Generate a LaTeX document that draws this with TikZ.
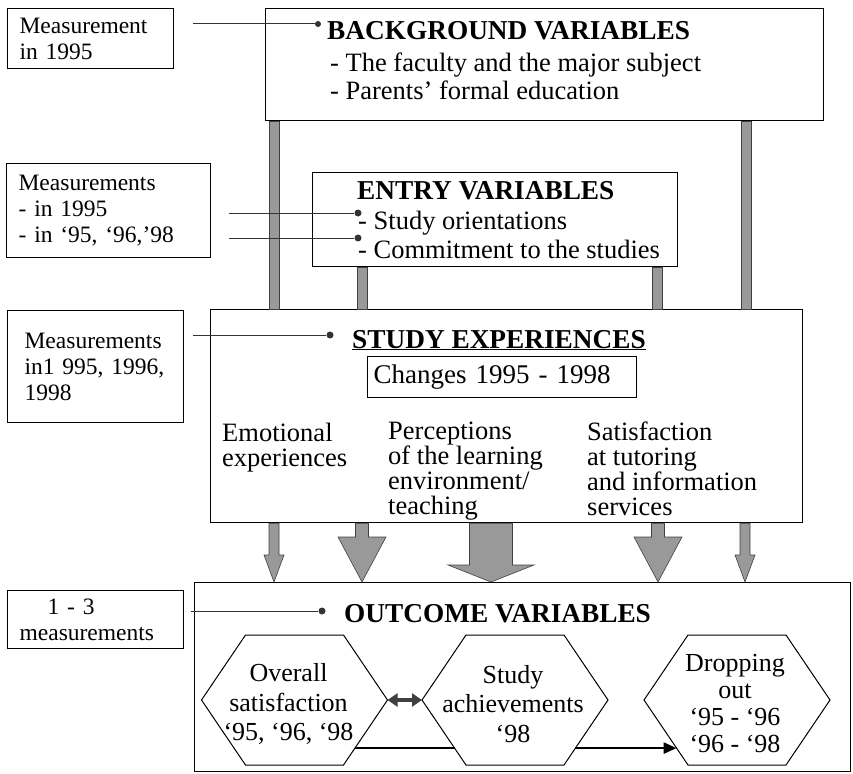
\documentclass[tikz,border=0pt]{standalone}
\usepackage{fontspec}
\setmainfont{Liberation Serif}
\usetikzlibrary{arrows.meta,calc}

\begin{document}
\begin{tikzpicture}[x=1pt, y=-1pt,
    frame/.style={draw, line width=1.2pt, inner sep=0pt, anchor=north west},
    note/.style={draw, line width=1.2pt, anchor=north west, align=left,
        inner xsep=12pt, inner ysep=0pt, font=\fontsize{23.5}{26}\selectfont},
    heading/.style={anchor=west, inner sep=0pt, font=\fontsize{27.3}{29}\selectfont\bfseries},
    items/.style={anchor=north west, inner sep=0pt, align=left, font=\fontsize{26.5}{28}\selectfont},
    dot/.style={circle, fill=black!80, inner sep=0pt, minimum size=7pt},
    lead/.style={line width=1pt, black!80},
    bar/.style={fill=black!40, draw=black!75, line width=0.6pt},
    hexline/.style={draw, line width=1pt, fill=white},
    hextext/.style={inner sep=0pt, align=center, font=\fontsize{26}{29.5}\selectfont}
]
    \useasboundingbox (0,0) rectangle (853,773);

    % main boxes
    \node[frame, minimum width=558pt, minimum height=112pt] (bg) at (265,8) {};
    \node[frame, minimum width=365pt, minimum height=94pt] (entry) at (312,172) {};
    \node[frame, minimum width=592pt, minimum height=213pt] (study) at (210,309) {};
    \node[frame, minimum width=656pt, minimum height=189pt] (outcome) at (194,582) {};

    % measurement notes
    \node[note, text width=142pt, minimum height=60pt] (m1) at (7,8) {Measurement\\in 1995};
    \node[note, text width=180pt, minimum height=94pt] (m2) at (6,163) {Measurements\\- in 1995\\- in ‘95, ‘96,’98};
    \node[note, inner xsep=17pt, text width=142pt, minimum height=112pt] (m3) at (7,310) {Measurements\\in1 995, 1996,\\1998};
    \node[note, text width=152pt, minimum height=58pt] (m4) at (7,590) {\hspace*{28pt}1 - 3\\measurements};

    % grey bars
    \foreach \x in {274,746}
        \filldraw[bar] ($(bg.south -| \x,0)+(-5,0)$) rectangle ($(study.north -| \x,0)+(5,0)$);
    \foreach \x in {362,657}
        \filldraw[bar] ($(entry.south -| \x,0)+(-5,0)$) rectangle ($(study.north -| \x,0)+(5,0)$);
    \foreach \x/\s/\h/\l in {274/5/10/27, 362/6.5/24/45, 491/21.5/43/17, 658/6.5/24/45, 745/5/10/27}
        \filldraw[bar] ($(study.south -| \x,0)+(-\s,0)$) -- ($(outcome.north -| \x,0)+(-\s,-\l)$)
            -- ($(outcome.north -| \x,0)+(-\h,-\l)$) -- (outcome.north -| \x,0)
            -- ($(outcome.north -| \x,0)+(\h,-\l)$) -- ($(outcome.north -| \x,0)+(\s,-\l)$)
            -- ($(study.south -| \x,0)+(\s,0)$) -- cycle;

    % background
    \node[heading] (bgtitle) at (327,31) {BACKGROUND VARIABLES};
    \node[items] (bgitems) at (330,53) {- The faculty and the major subject\\- Parents’ formal education};
    \node[dot, minimum size=6pt] (bgdot) at (318,24) {};
    \draw[lead] ($(m1.east |- bgdot)+(19,0)$) -- (bgdot);

    % entry
    \node[heading] (entrytitle) at (357,191) {ENTRY VARIABLES};
    \node[items, font=\fontsize{26.5}{29}\selectfont] (entryitems) at (358,211)
        {- Study orientations\\- Commitment to the studies};
    \node[dot] (ordot) at (358,213) {};
    \node[dot] (comdot) at (358,238) {};
    \draw[lead] ($(m2.east |- ordot)+(18,0)$) -- (ordot);
    \draw[lead] ($(m2.east |- comdot)+(18,0)$) -- (comdot);

    % study experiences
    \node[heading, anchor=base west] (studytitle) at (352,348) {\underline{STUDY EXPERIENCES}};
    \node[frame, minimum width=269pt, minimum height=41pt, text width=257pt, inner xsep=6pt,
        font=\fontsize{27}{29}\selectfont] (changes) at (367,356) {Changes 1995 - 1998};
    \node[dot] (studydot) at (330,335) {};
    \draw[lead] ($(m3.east |- studydot)+(9,0)$) -- (studydot);
    \node[items, font=\fontsize{26.5}{24.8}\selectfont] (emo) at (222,423) {Emotional\\experiences};
    \node[items, font=\fontsize{26.5}{24.8}\selectfont] (perc) at (388,422)
        {Perceptions\\of the learning\\environment/\\teaching};
    \node[items, font=\fontsize{26.5}{24.8}\selectfont] (sat) at (587,422)
        {Satisfaction\\at tutoring\\and information\\services};

    % outcome
    \node[heading] (outtitle) at (344,614) {OUTCOME VARIABLES};
    \node[dot] (outdot) at (322,611) {};
    \draw[lead] ($(m4.east |- outdot)+(7,0)$) -- (outdot);
    \coordinate (overall) at (294.5,700);
    \coordinate (achieve) at (515,700);
    \coordinate (drop) at (737,700);
    \foreach \n in {overall,achieve,drop}
        \filldraw[hexline] ($(\n)+(-93,0)$) coordinate (\n-w) -- ++(44,-65) -- ++(98,0)
            -- ++(44,65) coordinate (\n-e) -- ++(-44,65) coordinate (\n-se)
            -- ++(-98,0) coordinate (\n-sw) -- cycle;
    \node[hextext] (overalltext) at ($(overall)+(-6,4)$) {Overall\\satisfaction\\‘95, ‘96, ‘98};
    \node[hextext] (achievetext) at ($(achieve)+(-2,4)$) {Study\\achievements\\‘98};
    \node[hextext, font=\fontsize{26}{27}\selectfont] (droptext) at ($(drop)+(-2,4)$)
        {Dropping\\out\\‘95 - ‘96\\‘96 - ‘98};
    \draw[{Triangle[length=10pt,width=13pt]}-{Triangle[length=10pt,width=13pt]},
        line width=3.5pt, black!75] (overall-e) -- (achieve-w);
    \draw[line width=2.5pt] ($(overall-e)!0.74!(overall-se)$) -- ($(achieve-w)!0.74!(achieve-sw)$);
    \draw[line width=2.5pt, -{Triangle[length=13pt,width=11pt]}]
        ($(achieve-e)!0.74!(achieve-se)$) -- ($(drop-w)!0.74!(drop-sw)$);
\end{tikzpicture}
\end{document}
